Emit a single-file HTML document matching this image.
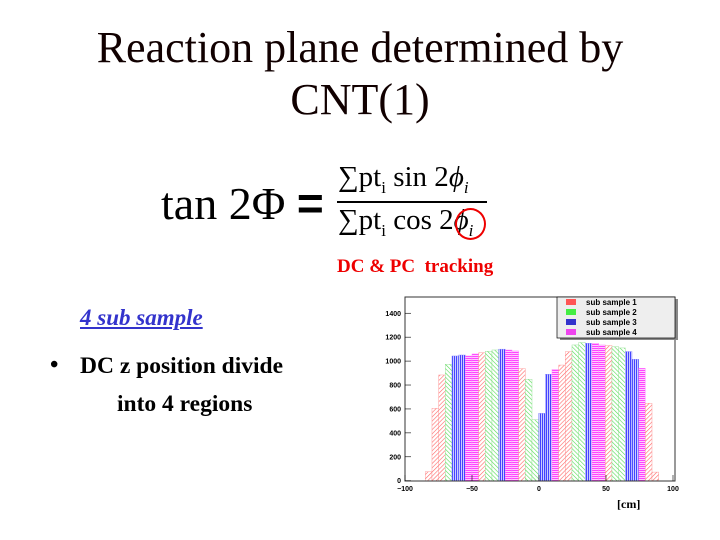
<!DOCTYPE html>
<html><head><meta charset="utf-8"><style>
body{margin:0;width:720px;height:540px;background:#fff;overflow:hidden;position:relative;font-family:"Liberation Serif",serif}
.t{position:absolute;white-space:nowrap}
</style></head><body>
<div class="t" style="left:0;width:720px;text-align:center;top:22px;font-size:44px;line-height:52px;color:#100">Reaction plane determined by<br>CNT(1)</div>
<div class="t" style="left:161px;top:178px;font-size:46px;line-height:50px">tan 2Φ <b style="font-family:'Liberation Sans',sans-serif">=</b></div>
<div class="t" style="left:338px;top:160px;font-size:29px;line-height:34px">∑pt<sub style="font-size:17px">i</sub> sin 2<i>ϕ<sub style="font-size:17px">i</sub></i></div>
<div style="position:absolute;left:337px;top:201px;width:150px;height:2px;background:#000"></div>
<div class="t" style="left:338px;top:203px;font-size:29px;line-height:34px">∑pt<sub style="font-size:17px">i</sub> cos 2<i>ϕ<sub style="font-size:17px">i</sub></i></div>
<div style="position:absolute;left:455px;top:208px;width:31px;height:32px;border:2px solid #e00;border-radius:50%;box-sizing:border-box"></div>
<div class="t" style="left:337px;top:256px;font-size:19px;font-weight:bold;color:#e00">DC &amp; PC&nbsp; tracking</div>
<div class="t" style="left:80px;top:305px;font-size:23px;font-weight:bold;font-style:italic;color:#33c;text-decoration:underline">4 sub sample</div>
<div class="t" style="left:50px;top:352px;font-size:24px;font-weight:bold">•</div>
<div class="t" style="left:80px;top:353px;font-size:23.5px;font-weight:bold">DC z position divide</div>
<div class="t" style="left:117px;top:391px;font-size:23.5px;font-weight:bold">into 4 regions</div>
<div class="t" style="left:617px;top:497px;font-size:12px;font-weight:bold">[cm]</div>
<svg id="s" width="720" height="540" style="position:absolute;left:0;top:0" font-family="Liberation Sans, sans-serif">
<defs>
<pattern id="pr" width="3" height="3" patternUnits="userSpaceOnUse" patternTransform="rotate(45)"><rect width="3" height="3" fill="#fff"/><line x1="0" y1="0" x2="0" y2="3" stroke="#f66" stroke-width="1.2"/></pattern>
<pattern id="pg" width="3" height="3" patternUnits="userSpaceOnUse" patternTransform="rotate(-45)"><rect width="3" height="3" fill="#fff"/><line x1="0" y1="0" x2="0" y2="3" stroke="#5d5" stroke-width="1.2"/></pattern>
<pattern id="pb" width="2" height="2" patternUnits="userSpaceOnUse"><rect width="2" height="2" fill="#ccf"/><line x1="0.5" y1="0" x2="0.5" y2="2" stroke="#44f" stroke-width="1"/></pattern>
<pattern id="pp" width="2" height="2" patternUnits="userSpaceOnUse"><rect width="2" height="2" fill="#fcf"/><line x1="0" y1="0.5" x2="2" y2="0.5" stroke="#f4f" stroke-width="1"/></pattern>
</defs>
<g id="bars"></g>
<rect x="405" y="297" width="270" height="184" fill="none" stroke="#333" stroke-width="1"/>
<g id="ax" font-size="7" fill="#000" font-weight="bold"></g>
<rect x="560" y="299" width="118" height="41" fill="#888"/>
<rect x="557" y="297" width="118" height="41" fill="#eee" stroke="#000" stroke-width="0.7"/>
<g font-size="8" font-weight="bold">
<rect x="566" y="299" width="10" height="6" fill="#f55"/><text x="586" y="305">sub sample 1</text>
<rect x="566" y="309" width="10" height="6" fill="#4e4"/><text x="586" y="315">sub sample 2</text>
<rect x="566" y="319" width="10" height="6" fill="#33c"/><text x="586" y="325">sub sample 3</text>
<rect x="566" y="329" width="10" height="6" fill="#e4e"/><text x="586" y="335">sub sample 4</text>
</g>
</svg>
<script>
var h=[75,605,884,973,1043,1051,1043,1060,1070,1082,1093,1100,1093,1085,937,848,510,563,890,931,967,1079,1135,1155,1149,1149,1135,1130,1120,1110,1080,1015,940,647,72];
var c="rrrgbbpprggbpprggbbprrggbpprggbbprr";
var m={r:["pr","#f88"],g:["pg","#8d8"],b:["pb","#88f"],p:["pp","#f8f"]};
var s="";for(var k=0;k<h.length;k++){var x=425.3+6.667*k,hh=h[k]*0.1196,q=m[c[k]];
s+='<rect x="'+x+'" y="'+(480.7-hh)+'" width="6.7" height="'+hh+'" fill="url(#'+q[0]+')" stroke="'+q[1]+'" stroke-width="0.4"/>';}
document.getElementById("bars").innerHTML=s;
var a="";for(var v=0;v<=1400;v+=200){var y=480.7-v*0.1196;a+='<text x="401" y="'+(y+2.5)+'" text-anchor="end">'+v+'</text><line x1="405" x2="411" y1="'+y+'" y2="'+y+'" stroke="#000" stroke-width="0.6"/>';}
for(var u=-100;u<=100;u+=50){var x=539+1.34*u;a+='<text x="'+x+'" y="491" text-anchor="middle">'+(u<0?'\u2212'+(-u):u)+'</text><line x1="'+x+'" x2="'+x+'" y1="481" y2="475" stroke="#000" stroke-width="0.6"/>';}
document.getElementById("ax").innerHTML=a;
</script>
</body></html>
